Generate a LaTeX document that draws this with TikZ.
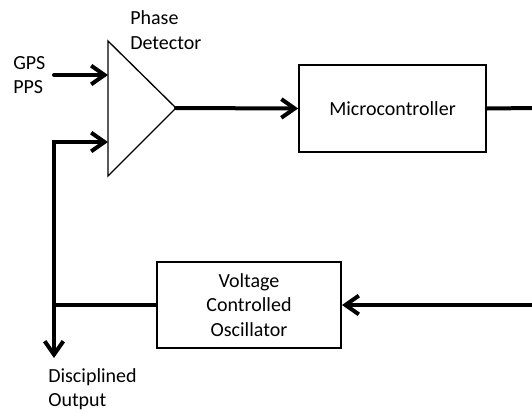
\documentclass[tikz,border=0pt]{standalone}
\usepackage{fontspec}
\setmainfont{Carlito}
\usetikzlibrary{arrows.meta}

\tikzset{
    wire/.style = {line width=3pt, line cap=round, arrows={-Straight Barb[length=10pt, width=14pt, line width=3pt]}},
    block/.style = {draw, line width=1.5pt, align=center, font=\fontsize{15}{18.4}\selectfont},
    label/.style = {align=left, inner sep=0pt, anchor=west, font=\fontsize{15}{18.4}\selectfont}
}

\begin{document}
\begin{tikzpicture}[x=0.75pt, y=-0.75pt]
    % Canvas
    \useasboundingbox (0,0) rectangle (532,412);

    % Phase detector
    \coordinate (pdtop) at (108,41);
    \coordinate (pdbot) at (108,176);
    \coordinate (pdtip) at (176,108);
    \coordinate (pdin1) at (108,75);
    \coordinate (pdin2) at (108,142);
    \draw[line width=1pt] (pdtop) -- (pdtip) -- (pdbot) -- cycle;
    \node[label] (pdlabel) at (130,30) {Phase\\Detector};

    % Blocks
    \node[block, minimum width=140pt, minimum height=65pt] (mc) at (392.5,108.5) {Microcontroller};
    \node[block, minimum width=138pt, minimum height=64.5pt] (vco) at (249,305) {Voltage\\Controlled\\Oscillator};

    % Inputs and outputs
    \node[label] (gpslabel) at (13,75) {GPS\\PPS};
    \node[label] (outlabel) at (48,389) {Disciplined\\Output};
    \coordinate (gps) at (54,75);
    \coordinate (fb) at (54,142);
    \coordinate (split) at (54,305);
    \coordinate (out) at (54,358);
    \coordinate (mcout) at (534,108);
    \coordinate (vcoin) at (534,305);

    % Connectors
    \draw[wire] (gps) -- (pdin1);
    \draw[wire] (pdtip) -- (mc.west);
    \draw[wire, -] (mc.east) -- (mcout);
    \draw[wire] (vcoin) -- (vco.east);
    \draw[wire, -] (vco.west) -- (split);
    \draw[wire, {Straight Barb[length=10pt, width=14pt, line width=3pt]}-{Straight Barb[length=10pt, width=14pt, line width=3pt]}, line cap=butt] (out) -- (fb) -- (pdin2);

\end{tikzpicture}
\end{document}
